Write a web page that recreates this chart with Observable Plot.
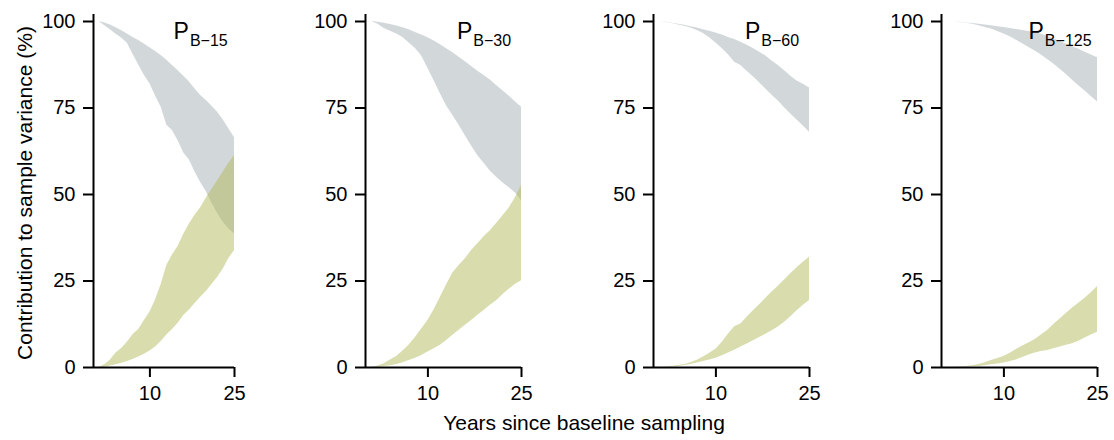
<!DOCTYPE html>
<html>
<head>
<meta charset="utf-8">
<script src="https://cdn.jsdelivr.net/npm/d3@7"></script>
<script src="https://cdn.jsdelivr.net/npm/@observablehq/plot@0.6"></script>
<style>
  html, body { margin: 0; padding: 0; background: #fff; }
  #chart { position: relative; width: 1114px; height: 440px; overflow: hidden;
           font-family: "Liberation Sans", Arial, sans-serif; color: #000; }
  #chart svg { position: absolute; top: 0; }
  .ytitle { position: absolute; left: 24px; top: 193px; transform: translate(-50%, -50%) rotate(-90deg);
            font-size: 21px; line-height: 21px; white-space: nowrap; }
  .xtitle { position: absolute; left: 584px; top: 412px; transform: translateX(-50%);
            font-size: 21px; line-height: 21px; white-space: nowrap; }
</style>
</head>
<body>
<div id="chart"></div>
<script>
// Years since baseline sampling
const years = [1, 2, 3, 4, 5, 6, 7, 8, 9, 10, 11, 12, 13, 14, 15, 16, 17, 18, 19, 20, 21, 22, 23, 24, 25];
const xTicks = [10, 25];
const yTicks = [0, 25, 50, 75, 100];
const panelNames = ["B−15", "B−30", "B−60", "B−125"];

// P B-15: contribution to sample variance (%), band limits
const b15GreyHigh  = [100, 99.6, 99, 98.2, 97.3, 96.4, 95.4, 94.5, 93.5, 92.4, 91.3, 90.2, 88.8, 87.3, 85.8, 84.2, 82.5, 80.5, 78.6, 77.2, 75.5, 73.8, 71.5, 69, 66.4];
const b15GreyLow   = [100, 98.8, 97.6, 96.3, 95.2, 93.7, 90.5, 87.5, 84.5, 82, 78.5, 75.2, 70, 68.5, 65.5, 62, 60, 56.5, 53.5, 50.8, 47.5, 44.5, 42, 40, 38.6];
const b15GreenHigh = [0, 0.8, 2.2, 4.2, 5.5, 7.3, 9.5, 11, 13.5, 16, 19.5, 24, 29.5, 32.5, 35, 38.5, 41.5, 44, 46.2, 49, 51.5, 54, 56.5, 59, 61.3];
const b15GreenLow  = [0, 0.1, 0.4, 0.8, 1.2, 1.7, 2.3, 3, 3.8, 4.8, 5.9, 7.5, 9.4, 11, 12.8, 15, 16.6, 18.5, 20.3, 22, 24, 26, 28.5, 31.5, 33.8];

// P B-30
const b30GreyHigh  = [100, 99.8, 99.5, 99.1, 98.7, 98.2, 97.6, 96.8, 96.1, 95.3, 94.4, 93.3, 92.1, 91, 89.7, 88.4, 87, 85.6, 84.4, 83.1, 81.5, 80, 78.5, 76.8, 75.2];
const b30GreyLow   = [100, 99.2, 98, 97.2, 96.4, 95.4, 93.8, 92.2, 90, 86.5, 82.9, 79.1, 75.6, 72.8, 70, 67, 64, 61.2, 59, 56.8, 55, 53.4, 52, 50.5, 48.3];
const b30GreenHigh = [0, 0.4, 1.1, 2.2, 3.2, 4.8, 6.5, 8.7, 11.1, 13.6, 16.7, 20.3, 23.9, 27.3, 29.5, 31.4, 33.8, 35.8, 37.8, 39.5, 41.6, 43.8, 46, 49, 52.6];
const b30GreenLow  = [0, 0.1, 0.3, 0.5, 0.9, 1.4, 2, 2.7, 3.5, 4.5, 5.4, 6.4, 7.8, 9.3, 10.8, 12.2, 13.6, 15.1, 16.5, 18, 19.3, 21, 22.6, 24, 25.1];

// P B-60
const b60GreyHigh  = [100, 99.8, 99.5, 99.2, 98.9, 98.5, 98.1, 97.6, 97.2, 96.7, 96.1, 95.4, 94.8, 94, 93.1, 92.2, 91.1, 90, 88.6, 87.3, 85.8, 84.2, 82.8, 81.9, 80.8];
const b60GreyLow   = [100, 99.7, 99.4, 99, 98.6, 98.1, 97.4, 96.5, 95.3, 93.8, 92.2, 90.4, 88.2, 87.3, 85.6, 84, 82.3, 80.5, 78.7, 77, 75.1, 73.3, 71.5, 69.8, 68];
const b60GreenHigh = [0, 0.1, 0.3, 0.6, 0.9, 1.4, 2.1, 3, 4.1, 5.3, 7.2, 9.6, 11.8, 12.6, 14.5, 16.4, 18.1, 20, 21.8, 23.5, 25.3, 27.1, 28.8, 30.4, 31.9];
const b60GreenLow  = [0, 0, 0.1, 0.3, 0.6, 0.9, 1.3, 1.7, 2.2, 2.7, 3.4, 4.2, 5, 5.9, 6.8, 7.7, 8.7, 9.6, 10.6, 11.7, 13.1, 14.7, 16.4, 18, 19.4];

// P B-125
const b125GreyHigh  = [100, 99.9, 99.8, 99.6, 99.4, 99.2, 99, 98.8, 98.5, 98.3, 98, 97.7, 97.4, 97.1, 96.8, 96.3, 95.7, 95, 94.2, 93.4, 92.7, 92, 91.1, 90.3, 89.5];
const b125GreyLow   = [100, 99.9, 99.7, 99.5, 99.2, 98.8, 98.3, 97.8, 97.1, 96.4, 95.6, 94.6, 93.6, 92.5, 91.5, 90.3, 89, 87.7, 86.2, 84.7, 83, 81.4, 79.9, 78.3, 76.7];
const b125GreenHigh = [0, 0, 0.1, 0.3, 0.5, 0.9, 1.4, 2, 2.6, 3.2, 4.1, 5.2, 6.2, 7.1, 8.1, 9.4, 10.7, 12.4, 14, 15.6, 17.2, 18.6, 20, 21.6, 23.4];
const b125GreenLow  = [0, 0, 0, 0.1, 0.2, 0.3, 0.5, 0.8, 1, 1.3, 1.7, 2.2, 2.9, 3.6, 4.2, 4.6, 4.9, 5.4, 5.9, 6.4, 6.9, 7.6, 8.5, 9.4, 10.2];

const greyFill = "#a5afb5";
const greenFill = "#b3b95b";
const SVGNS = "http://www.w3.org/2000/svg";

// Panel placement on the page (left edge of svg, left margin, plot width)
const panels = [
  {name: panelNames[0], grey: [b15GreyLow, b15GreyHigh], green: [b15GreenLow, b15GreenHigh], left: 0,   ml: 93, inner: 141},
  {name: panelNames[1], grey: [b30GreyLow, b30GreyHigh], green: [b30GreenLow, b30GreenHigh], left: 305, ml: 60, inner: 156},
  {name: panelNames[2], grey: [b60GreyLow, b60GreyHigh], green: [b60GreenLow, b60GreenHigh], left: 593, ml: 60, inner: 156},
  {name: panelNames[3], grey: [b125GreyLow, b125GreyHigh], green: [b125GreenLow, b125GreenHigh], left: 881, ml: 60, inner: 156}
];

const chart = document.getElementById("chart");
const mr = 16;

for (const p of panels) {
  const svg = Plot.plot({
    width: p.ml + p.inner + mr,
    height: 440,
    marginLeft: p.ml,
    marginRight: mr,
    marginTop: 21,
    marginBottom: 73,
    style: {fontFamily: "'Liberation Sans', Arial, sans-serif", fontSize: "20px", background: "transparent", color: "#000"},
    x: {domain: [0, 25]},
    y: {domain: [0, 100]},
    marks: [
      Plot.areaY(years, {x: d => d, y1: (d, i) => p.grey[0][i], y2: (d, i) => p.grey[1][i], fill: greyFill, fillOpacity: 0.5}),
      Plot.areaY(years, {x: d => d, y1: (d, i) => p.green[0][i], y2: (d, i) => p.green[1][i], fill: greenFill, fillOpacity: 0.5}),
      Plot.ruleY([0], {x1: 0, x2: 25, strokeWidth: 2}),
      Plot.ruleX([0], {y1: 0, y2: 102, strokeWidth: 2}),
      Plot.axisY({ticks: yTicks, tickSize: 10, tickPadding: 8, strokeWidth: 2, fontSize: 20, label: null, tickFormat: d => String(d)}),
      Plot.axisX({ticks: xTicks, tickSize: 10, tickPadding: 8, strokeWidth: 2, fontSize: 20, label: null, tickFormat: d => String(d)}),
      Plot.text(["P|" + p.name], {x: 19, y: 97, text: d => d, fontSize: 23, textAnchor: "middle"})
    ]
  });
  // Panel label: "P" with subscripted series name
  svg.querySelectorAll("text").forEach(t => {
    const s = t.textContent;
    if (s.includes("|")) {
      const [main, sub] = s.split("|");
      t.textContent = "";
      const a = document.createElementNS(SVGNS, "tspan");
      a.textContent = main;
      const b = document.createElementNS(SVGNS, "tspan");
      b.textContent = sub;
      b.setAttribute("font-size", "16");
      b.setAttribute("dy", "6.7");
      b.setAttribute("dx", "1");
      t.appendChild(a);
      t.appendChild(b);
    }
  });
  svg.style.left = p.left + "px";
  chart.appendChild(svg);
}

const yTitle = document.createElement("div");
yTitle.className = "ytitle";
yTitle.textContent = "Contribution to sample variance (%)";
chart.appendChild(yTitle);

const xTitle = document.createElement("div");
xTitle.className = "xtitle";
xTitle.textContent = "Years since baseline sampling";
chart.appendChild(xTitle);
</script>
</body>
</html>
